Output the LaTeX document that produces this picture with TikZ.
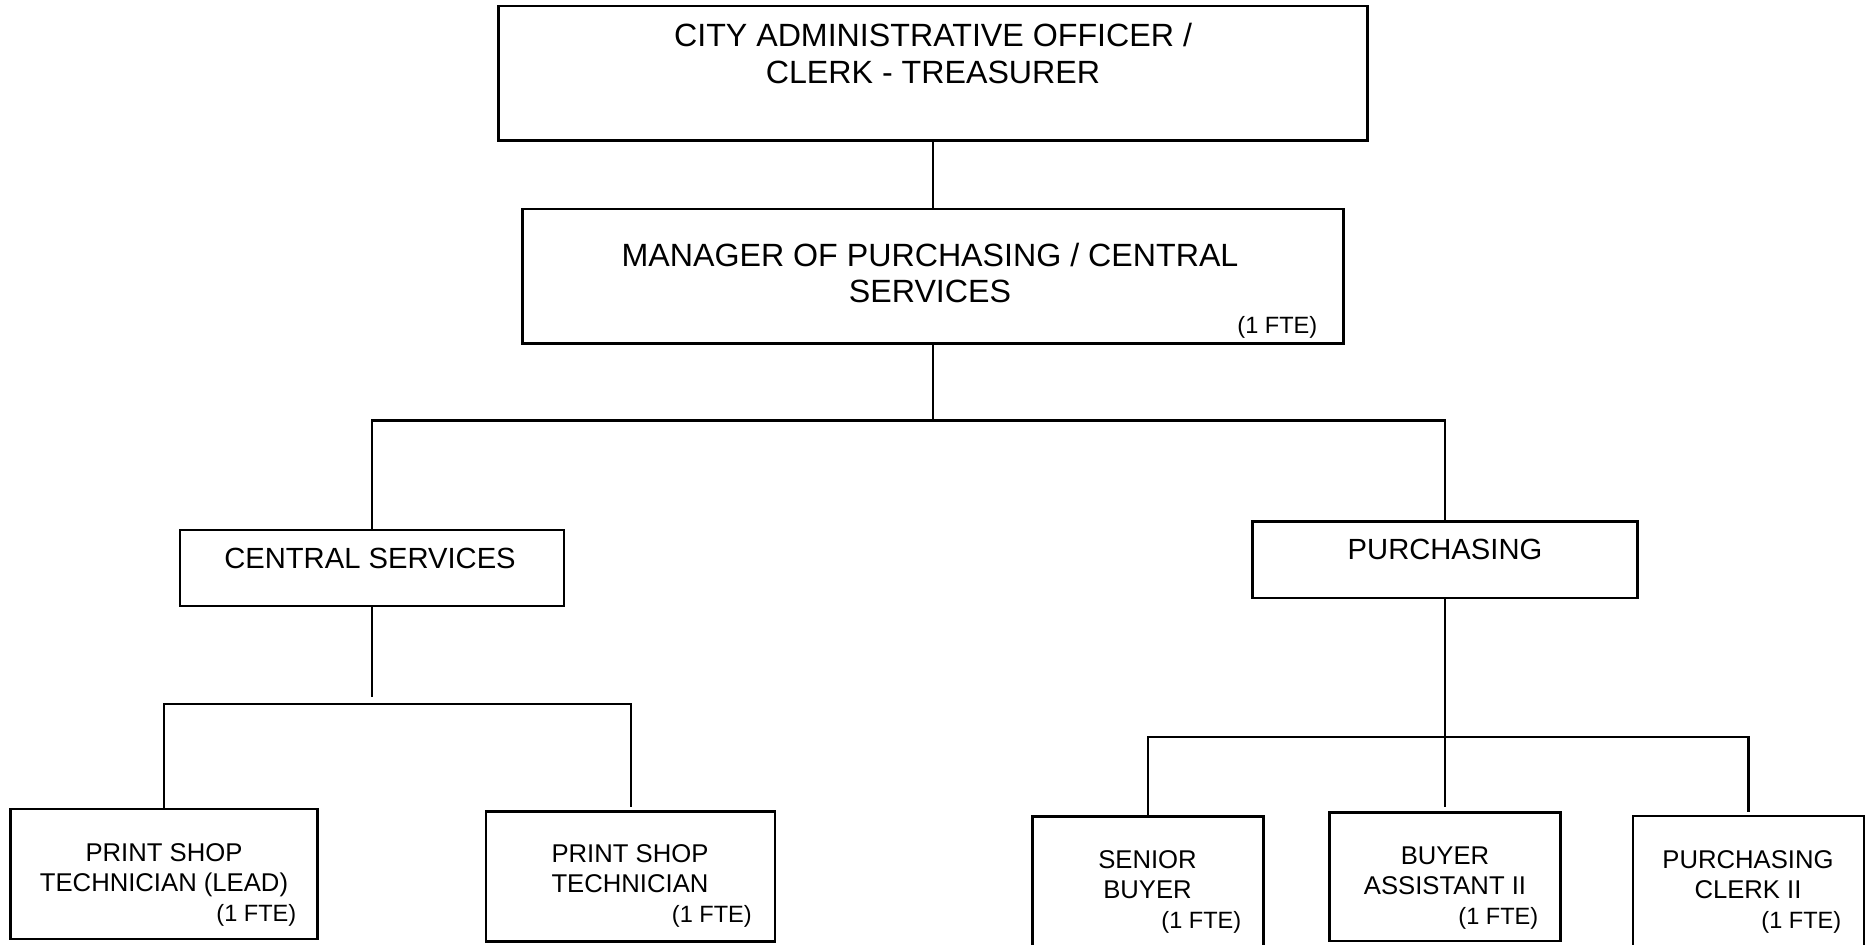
\documentclass[tikz,border=0pt]{standalone}
\usepackage{fontspec}
\setmainfont{Liberation Sans}

\begin{document}
\begin{tikzpicture}[x=0.01cm,y=-0.01cm,
    orgbox/.style={draw,line width=0.75pt,inner sep=0pt},
    link/.style={line width=0.6pt},
    toptext/.style={font=\fontsize{9.15}{10.4}\selectfont,align=center,inner sep=0pt,anchor=north},
    unittext/.style={font=\fontsize{8.3}{10}\selectfont,align=center,inner sep=0pt,anchor=north},
    jobtext/.style={font=\fontsize{7.3}{8.6}\selectfont,align=center,inner sep=0pt,anchor=north},
    ftetext/.style={font=\fontsize{6.7}{8}\selectfont,inner sep=0pt,anchor=base east}]
    \clip (0,0) rectangle (1873,944);
    %Boxes
    \node[orgbox,minimum width=8.685cm,minimum height=1.347cm] (cao) at (933,73.4) {};
    \node[orgbox,minimum width=8.206cm,minimum height=1.343cm] (mgr) at (933,276.2) {};
    \node[orgbox,minimum width=3.84cm,minimum height=0.76cm] (cs) at (372,568) {};
    \node[orgbox,minimum width=3.845cm,minimum height=0.765cm] (pur) at (1445,559.8) {};
    \node[orgbox,minimum width=3.07cm,minimum height=1.30cm] (pstl) at (164,874) {};
    \node[orgbox,minimum width=2.885cm,minimum height=1.302cm] (pst) at (630.5,876.6) {};
    \node[orgbox,minimum width=2.31cm,minimum height=1.40cm] (sb) at (1148,886.7) {};
    \node[orgbox,minimum width=2.31cm,minimum height=1.285cm] (ba) at (1445,876.8) {};
    \node[orgbox,minimum width=2.31cm,minimum height=1.40cm] (cl) at (1748.5,886) {};
    %Texts
    \node[toptext] (caotext) at (933,22.8) {CITY ADMINISTRATIVE OFFICER /\\CLERK - TREASURER};
    \node[toptext,font=\fontsize{9.15}{10.1}\selectfont] (mgrtext) at (930,242.5) {MANAGER OF PURCHASING / CENTRAL\\SERVICES};
    \node[ftetext] (mgrfte) at (1318,333.4) {(1 FTE)};
    \node[unittext] (cstext) at (370,547.6) {CENTRAL SERVICES};
    \node[unittext] (purtext) at (1445,538.8) {PURCHASING};
    \node[jobtext] (pstltext) at (164,842.5) {PRINT SHOP\\TECHNICIAN (LEAD)};
    \node[ftetext] (pstlfte) at (297,921.2) {(1 FTE)};
    \node[jobtext] (psttext) at (630,844) {PRINT SHOP\\TECHNICIAN};
    \node[ftetext] (pstfte) at (752.5,922.3) {(1 FTE)};
    \node[jobtext] (sbtext) at (1147.5,850) {SENIOR\\BUYER};
    \node[ftetext] (sbfte) at (1242,928.2) {(1 FTE)};
    \node[jobtext] (batext) at (1445,846) {BUYER\\ASSISTANT II};
    \node[ftetext] (bafte) at (1539,924) {(1 FTE)};
    \node[jobtext] (cltext) at (1748,850) {PURCHASING\\CLERK II};
    \node[ftetext] (clfte) at (1842,928.2) {(1 FTE)};
    %Lines
    \coordinate (split) at (933,420.5);
    \coordinate (csend) at (372,697);
    \coordinate (csbar) at (372,704);
    \coordinate (pstend) at (631,807);
    \coordinate (purbar) at (1445,737);
    \coordinate (baend) at (1445,807);
    \coordinate (clend) at (1748.5,812);
    \draw[link] (cao.south) -- (mgr.north);
    \draw[link] (mgr.south) -- (split);
    \draw[link] (cs.north) |- (split) -| (pur.north);
    \draw[link] (cs.south) -- (csend);
    \draw[link] (pstl.north) |- (csbar) -| (pstend);
    \draw[link] (pur.south) -- (baend);
    \draw[link] (sb.north) |- (purbar) -| (clend);
\end{tikzpicture}
\end{document}
